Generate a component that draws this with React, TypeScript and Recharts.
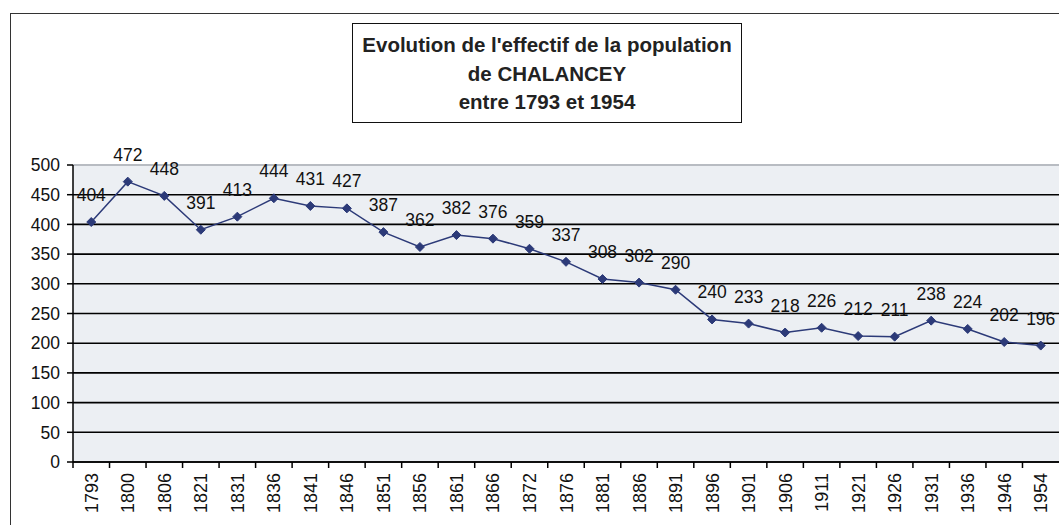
import { LineChart, Line, XAxis, YAxis, CartesianGrid, LabelList, ReferenceLine } from 'recharts';

const years = ['1793', '1800', '1806', '1821', '1831', '1836', '1841', '1846', '1851', '1856', '1861', '1866', '1872', '1876', '1881', '1886', '1891', '1896', '1901', '1906', '1911', '1921', '1926', '1931', '1936', '1946', '1954'];
const population = [404, 472, 448, 391, 413, 444, 431, 427, 387, 362, 382, 376, 359, 337, 308, 302, 290, 240, 233, 218, 226, 212, 211, 238, 224, 202, 196];
const yTicks = [0, 50, 100, 150, 200, 250, 300, 350, 400, 450, 500];
const titleLines = ["Evolution de l'effectif de la population", 'de CHALANCEY', 'entre 1793 et 1954'];

const chartData = years.map((year, i) => ({ year, population: population[i] }));

const FONT = '"Liberation Sans", Arial, sans-serif';
const LINE_COLOR = '#2c3a78';
const PLOT_WIDTH = 986;
const band = PLOT_WIDTH / years.length;

function Diamond(props: any) {
  const { cx, cy, index } = props;
  if (cx == null || cy == null) return null;
  const r = 4.5;
  return (
    <path
      key={`d-${index}`}
      d={`M${cx},${cy - r} L${cx + r},${cy} L${cx},${cy + r} L${cx - r},${cy} Z`}
      fill={LINE_COLOR}
      stroke={LINE_COLOR}
    />
  );
}

function YearTick(props: any) {
  const { x, y, payload } = props;
  return (
    <g>
      <line x1={x - band / 2} y1={y} x2={x - band / 2} y2={y + 6} stroke="#000" strokeWidth={1.5} />
      <text
        transform={`translate(${x + 6.5}, ${y + 11}) rotate(-90)`}
        textAnchor="end"
        fontSize={18}
        fontFamily={FONT}
        fill="#111"
      >
        {payload.value}
      </text>
    </g>
  );
}

export default function App() {
  return (
    <div style={{ position: 'absolute', left: 0, top: 0, width: 1059, height: 525, overflow: 'hidden', background: '#fff' }}>
      <div
        style={{
          position: 'absolute',
          left: 10,
          top: 13,
          width: 1100,
          height: 600,
          borderLeft: '1.5px solid #333',
          borderTop: '1.5px solid #333',
        }}
      />
      <div style={{ position: 'absolute', left: 0, top: 0 }}>
        <LineChart width={1059} height={525} data={chartData} margin={{ top: 165, right: 0, bottom: 0, left: 0 }}>
          <CartesianGrid vertical={false} stroke="#000" strokeWidth={1.6} fill="#eceff3" />
          <ReferenceLine y={500} stroke="#b8bcc2" strokeWidth={2} />
          <XAxis
            dataKey="year"
            scale="band"
            interval={0}
            height={63}
            tickLine={false}
            tickSize={0}
            tickMargin={0}
            axisLine={{ stroke: '#000', strokeWidth: 1.5 }}
            tick={<YearTick />}
          />
          <YAxis
            domain={[0, 500]}
            ticks={yTicks}
            interval={0}
            width={73}
            tickSize={6}
            tickMargin={7}
            axisLine={{ stroke: '#000', strokeWidth: 1.5 }}
            tickLine={{ stroke: '#000', strokeWidth: 1.5 }}
            tick={{ fontSize: 17.5, fontFamily: FONT, fill: '#111' }}
          />
          <Line
            type="linear"
            dataKey="population"
            stroke={LINE_COLOR}
            strokeWidth={1.5}
            dot={<Diamond />}
            activeDot={false}
            isAnimationActive={false}
          >
            <LabelList dataKey="population" position="top" offset={21} fontSize={17.5} fontFamily={FONT} fill="#111" />
          </Line>
        </LineChart>
      </div>
      <div
        style={{
          position: 'absolute',
          left: 352,
          top: 23,
          width: 390,
          height: 100,
          border: '1.5px solid #111',
          background: '#fff',
          boxSizing: 'border-box',
          paddingTop: 7,
          textAlign: 'center',
          fontFamily: FONT,
          fontWeight: 'bold',
          fontSize: 20.5,
          lineHeight: '28.5px',
          color: '#222',
        }}
      >
        {titleLines.map((t) => (
          <div key={t}>{t}</div>
        ))}
      </div>
    </div>
  );
}
